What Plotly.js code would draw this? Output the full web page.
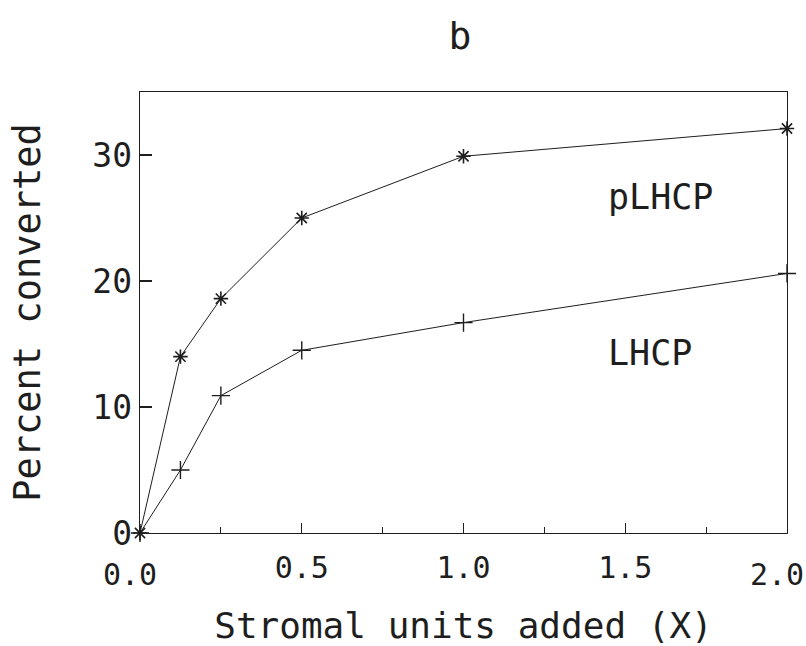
<!DOCTYPE html>
<html>
<head>
<meta charset="utf-8">
<script src="https://cdn.plot.ly/plotly-3.0.1.min.js"></script>
<style>
  html, body { margin: 0; padding: 0; background: #fff; }
  #chart { width: 806px; height: 646px; }
</style>
</head>
<body>
<div id="chart"></div>
<script>
// Data
const stromalUnits = [0, 0.125, 0.25, 0.5, 1.0, 2.0];
const pLHCP = [0, 14.0, 18.6, 25.0, 29.9, 32.1];
const LHCP = [0, 5.0, 10.9, 14.5, 16.7, 20.6];
const seriesNames = ['pLHCP', 'LHCP'];
const xTickVals = [0.5, 1.0, 1.5];
const xTickText = ['0.5', '1.0', '1.5'];
const xEdgeVals = [0, 2.0];
const xEdgeText = ['0.0', '2.0'];
const yTickVals = [0, 10, 20, 30];
const labelPos = { x: 1.44, yP: 26.7, yL: 14.3 };

const ink = '#1e1e1e';
const fontFam = '"DejaVu Sans Mono", "Liberation Mono", monospace';

const traces = [
  {
    x: stromalUnits, y: pLHCP, name: seriesNames[0],
    type: 'scatter', mode: 'lines+markers',
    line: { color: ink, width: 1 },
    marker: { symbol: 'asterisk-open', size: 12, color: ink, line: { color: ink, width: 1.6 } },
    cliponaxis: false
  },
  {
    x: stromalUnits, y: LHCP, name: seriesNames[1],
    type: 'scatter', mode: 'lines+markers',
    line: { color: ink, width: 1 },
    marker: { symbol: 'cross-thin-open', size: 13, color: ink, line: { color: ink, width: 1.4 } },
    cliponaxis: false
  },
  {
    // empty helper trace so the edge-label axis (x2) is drawn
    x: [], y: [], xaxis: 'x2', yaxis: 'y', type: 'scatter', mode: 'markers',
    showlegend: false, hoverinfo: 'skip'
  }
];

const layout = {
  width: 806, height: 646,
  paper_bgcolor: '#fff', plot_bgcolor: '#fff',
  showlegend: false,
  margin: { l: 140, r: 19, t: 92, b: 113 },
  font: { family: fontFam, color: ink, size: 30 },
  title: {
    text: 'b', font: { family: fontFam, size: 38, color: ink },
    x: 0.5705, xanchor: 'center', xref: 'container',
    y: 0.944, yanchor: 'middle', yref: 'container'
  },
  xaxis: {
    range: [0, 2.0], tickvals: xTickVals, ticktext: xTickText,
    ticks: 'inside', ticklen: 10, tickwidth: 1.2, tickcolor: ink,
    showline: true, linecolor: ink, linewidth: 1.3, mirror: true,
    showgrid: false, zeroline: false,
    ticklabelstandoff: 8,
    tickfont: { family: fontFam, size: 30, color: ink },
    minor: { dtick: 0.25, tick0: 0, ticks: 'inside', ticklen: 6, tickwidth: 1.2, tickcolor: ink, showgrid: false },
    title: { text: 'Stromal units added (X)', font: { family: fontFam, size: 36, color: ink }, standoff: 30 },
    automargin: false
  },
  xaxis2: {
    overlaying: 'x', anchor: 'y', side: 'bottom',
    range: [0, 2.0], tickvals: xEdgeVals, ticktext: xEdgeText,
    ticks: '', showline: false, showgrid: false, zeroline: false,
    ticklabelstandoff: 21, ticklabelshift: -10,
    tickfont: { family: fontFam, size: 30, color: ink },
    automargin: false
  },
  yaxis: {
    range: [0, 35], tickvals: yTickVals,
    ticks: 'inside', ticklen: 12, tickwidth: 1.2, tickcolor: ink,
    showline: true, linecolor: ink, linewidth: 1.3, mirror: true,
    showgrid: false, zeroline: false,
    tickfont: { family: fontFam, size: 33, color: ink },
    title: { text: 'Percent converted', font: { family: fontFam, size: 37, color: ink }, standoff: 40 },
    automargin: false
  },
  annotations: [
    { x: labelPos.x, y: labelPos.yP, xref: 'x', yref: 'y', text: seriesNames[0], showarrow: false,
      xanchor: 'left', yanchor: 'middle', font: { family: fontFam, size: 35, color: ink } },
    { x: labelPos.x, y: labelPos.yL, xref: 'x', yref: 'y', text: seriesNames[1], showarrow: false,
      xanchor: 'left', yanchor: 'middle', font: { family: fontFam, size: 35, color: ink } }
  ]
};

Plotly.newPlot('chart', traces, layout, { displayModeBar: false, staticPlot: true });
</script>
</body>
</html>
